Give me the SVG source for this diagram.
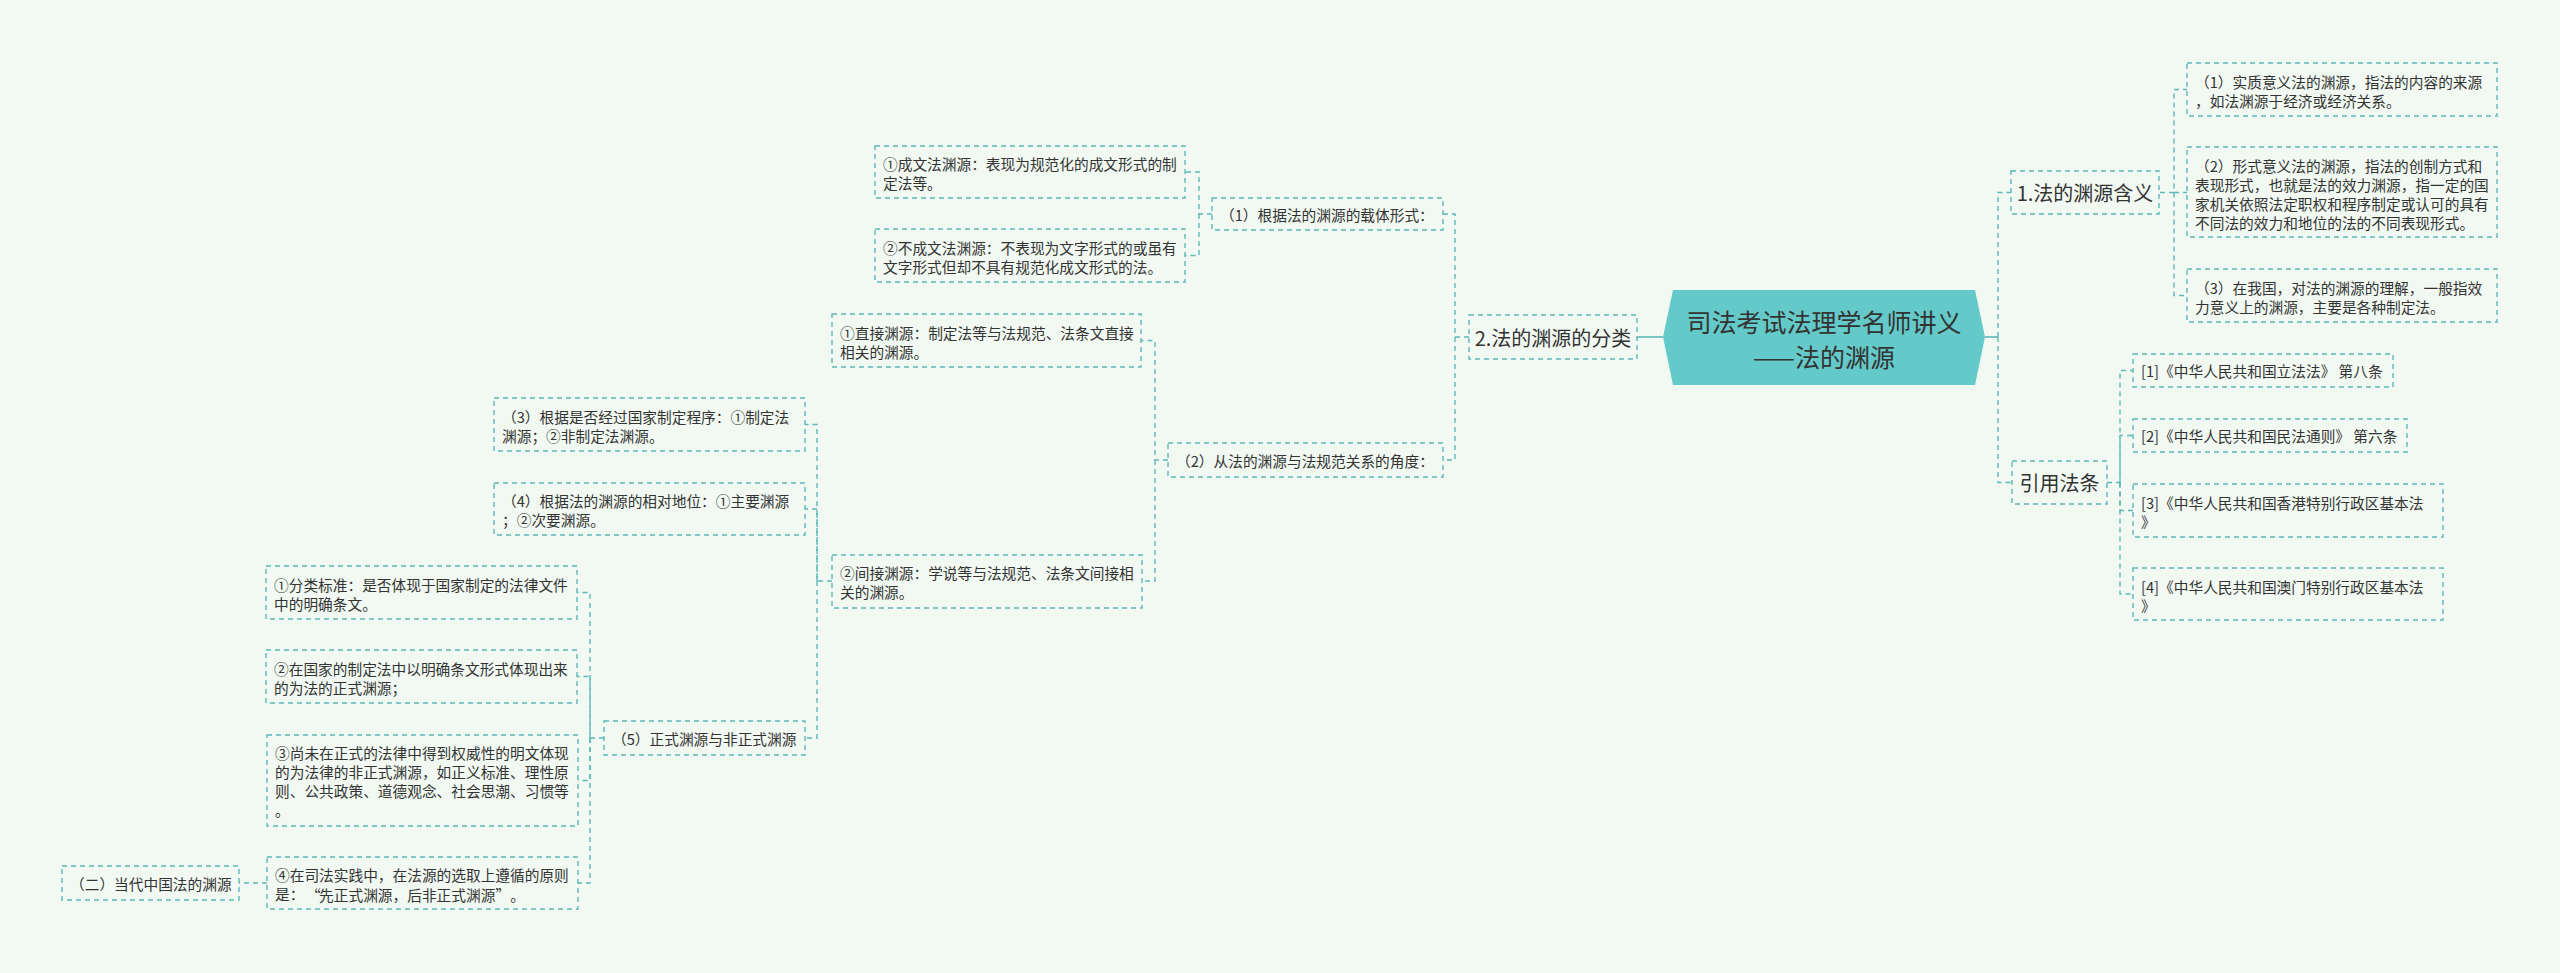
<svg xmlns="http://www.w3.org/2000/svg" width="2560" height="973" viewBox="0 0 2560 973">
<style>
.bg{fill:#f1f9f2}
.box{fill:none;stroke:#5db8b8;stroke-width:1.4;stroke-dasharray:5 4}
.t{font-family:"Noto Sans CJK SC","Noto Sans",sans-serif;font-size:14.7px;fill:#333333;dominant-baseline:central}
.l1{font-family:"Noto Sans CJK SC","Noto Sans",sans-serif;font-size:20px;fill:#333333;dominant-baseline:central;text-anchor:middle}
.root{font-family:"Noto Sans CJK SC","Noto Sans",sans-serif;font-size:25px;fill:#333333;dominant-baseline:central;text-anchor:middle}
.c{fill:none;stroke:#5db8b8;stroke-width:1.4;stroke-dasharray:5 4}
.s{fill:none;stroke:#5db8b8;stroke-width:1.6}
</style>
<rect class="bg" x="0" y="0" width="2560" height="973"/>
<g id="connectors">
<path class="s" d="M1985,337 H1998"/>
<path class="c" d="M1998,337 V192.5 H2011"/>
<path class="c" d="M1998,337 V482.5 H2012"/>
<path class="c" d="M2160,192.5 H2174 V89.5 H2187"/>
<path class="c" d="M2174,192.5 H2187"/>
<path class="c" d="M2174,192.5 V295.5 H2187"/>
<path class="c" d="M2107,482.5 H2120 V370.5 H2133"/>
<path class="c" d="M2120,482.5 V435.5 H2133"/>
<path class="c" d="M2120,482.5 V510.5 H2133"/>
<path class="c" d="M2120,482.5 V594 H2133"/>
<path class="s" d="M1663,337 H1637"/>
<path class="c" d="M1469,337 H1455 V214 H1443"/>
<path class="c" d="M1455,337 V460 H1443"/>
<path class="c" d="M1212,214 H1199 V172 H1185"/>
<path class="c" d="M1199,214 V255.5 H1185"/>
<path class="c" d="M1168,460 H1155 V340.5 H1141"/>
<path class="c" d="M1155,460 V581 H1142"/>
<path class="c" d="M832,581 H817 V424.5 H805"/>
<path class="c" d="M817,581 V509 H805"/>
<path class="c" d="M817,581 V738 H805"/>
<path class="c" d="M604,738 H590 V592.5 H577"/>
<path class="c" d="M590,738 V676.5 H577"/>
<path class="c" d="M590,738 V780.5 H578"/>
<path class="c" d="M590,738 V883 H578"/>
<path class="c" d="M267,883 H239"/>
</g>
<g id="root">
<polygon points="1663,337 1673,290 1975,290 1985,337 1975,385 1673,385" fill="#64c9c9"/>
<text class="root" x="1824" y="321">司法考试法理学名师讲义</text>
<text class="root" x="1824" y="356">——法的渊源</text>
</g>
<g id="n1">
<rect class="box" x="2011" y="171" width="148" height="43"/>
<text class="l1" x="2085" y="192.5">1.法的渊源含义</text>
</g>
<g id="n1a">
<rect class="box" x="2187" y="63" width="310" height="53"/>
<text class="t" x="2195" y="81">（1）实质意义法的渊源，指法的内容的来源</text>
<text class="t" x="2195" y="100">，如法渊源于经济或经济关系。</text>
</g>
<g id="n1b">
<rect class="box" x="2187" y="147" width="310" height="90"/>
<text class="t" x="2195" y="165">（2）形式意义法的渊源，指法的创制方式和</text>
<text class="t" x="2195" y="184">表现形式，也就是法的效力渊源，指一定的国</text>
<text class="t" x="2195" y="203">家机关依照法定职权和程序制定或认可的具有</text>
<text class="t" x="2195" y="222">不同法的效力和地位的法的不同表现形式。</text>
</g>
<g id="n1c">
<rect class="box" x="2187" y="269" width="310" height="53"/>
<text class="t" x="2195" y="287">（3）在我国，对法的渊源的理解，一般指效</text>
<text class="t" x="2195" y="306">力意义上的渊源，主要是各种制定法。</text>
</g>
<g id="n2">
<rect class="box" x="2012" y="461" width="95" height="43"/>
<text class="l1" x="2059.5" y="482.5">引用法条</text>
</g>
<g id="n2a">
<rect class="box" x="2133" y="354" width="260" height="33"/>
<text class="t" x="2141" y="370.5">[1]《中华人民共和国立法法》 第八条</text>
</g>
<g id="n2b">
<rect class="box" x="2133" y="419" width="274" height="33"/>
<text class="t" x="2141" y="435.5">[2]《中华人民共和国民法通则》 第六条</text>
</g>
<g id="n2c">
<rect class="box" x="2133" y="484" width="310" height="53"/>
<text class="t" x="2141" y="502">[3]《中华人民共和国香港特别行政区基本法</text>
<text class="t" x="2141" y="521">》</text>
</g>
<g id="n2d">
<rect class="box" x="2133" y="568" width="310" height="52"/>
<text class="t" x="2141" y="586">[4]《中华人民共和国澳门特别行政区基本法</text>
<text class="t" x="2141" y="605">》</text>
</g>
<g id="n3">
<rect class="box" x="1469" y="315" width="168" height="44"/>
<text class="l1" x="1553" y="337">2.法的渊源的分类</text>
</g>
<g id="n3a">
<rect class="box" x="1212" y="198" width="231" height="32"/>
<text class="t" x="1220" y="214">（1）根据法的渊源的载体形式：</text>
</g>
<g id="n3a1">
<rect class="box" x="875" y="146" width="310" height="52"/>
<text class="t" x="883" y="163.5">①成文法渊源：表现为规范化的成文形式的制</text>
<text class="t" x="883" y="182.5">定法等。</text>
</g>
<g id="n3a2">
<rect class="box" x="875" y="229" width="310" height="53"/>
<text class="t" x="883" y="247">②不成文法渊源：不表现为文字形式的或虽有</text>
<text class="t" x="883" y="266">文字形式但却不具有规范化成文形式的法。</text>
</g>
<g id="n3b">
<rect class="box" x="1168" y="443" width="275" height="34"/>
<text class="t" x="1176" y="460">（2）从法的渊源与法规范关系的角度：</text>
</g>
<g id="n3b1">
<rect class="box" x="832" y="314" width="309" height="53"/>
<text class="t" x="840" y="332">①直接渊源：制定法等与法规范、法条文直接</text>
<text class="t" x="840" y="351">相关的渊源。</text>
</g>
<g id="n3b2">
<rect class="box" x="832" y="555" width="310" height="53"/>
<text class="t" x="840" y="572.5">②间接渊源：学说等与法规范、法条文间接相</text>
<text class="t" x="840" y="591.5">关的渊源。</text>
</g>
<g id="n3b2a">
<rect class="box" x="494" y="398" width="311" height="53"/>
<text class="t" x="502" y="416">（3）根据是否经过国家制定程序：①制定法</text>
<text class="t" x="502" y="435">渊源；②非制定法渊源。</text>
</g>
<g id="n3b2b">
<rect class="box" x="494" y="483" width="311" height="52"/>
<text class="t" x="502" y="500.5">（4）根据法的渊源的相对地位：①主要渊源</text>
<text class="t" x="502" y="519.5">；②次要渊源。</text>
</g>
<g id="n3b2c">
<rect class="box" x="604" y="721" width="201" height="34"/>
<text class="t" x="612" y="738">（5）正式渊源与非正式渊源</text>
</g>
<g id="c1">
<rect class="box" x="266" y="566" width="311" height="53"/>
<text class="t" x="274" y="584">①分类标准：是否体现于国家制定的法律文件</text>
<text class="t" x="274" y="603">中的明确条文。</text>
</g>
<g id="c2">
<rect class="box" x="266" y="650" width="311" height="53"/>
<text class="t" x="274" y="668">②在国家的制定法中以明确条文形式体现出来</text>
<text class="t" x="274" y="687">的为法的正式渊源；</text>
</g>
<g id="c3">
<rect class="box" x="267" y="735" width="311" height="91"/>
<text class="t" x="275" y="752.5">③尚未在正式的法律中得到权威性的明文体现</text>
<text class="t" x="275" y="771.5">的为法律的非正式渊源，如正义标准、理性原</text>
<text class="t" x="275" y="790.5">则、公共政策、道德观念、社会思潮、习惯等</text>
<text class="t" x="275" y="809.5">。</text>
</g>
<g id="c4">
<rect class="box" x="267" y="857" width="311" height="52"/>
<text class="t" x="275" y="874.5">④在司法实践中，在法源的选取上遵循的原则</text>
<text class="t" x="275" y="893.5">是：<tspan x="306">“</tspan><tspan x="319.1">先正式渊源，后非正式渊源</tspan><tspan x="495.5">”</tspan><tspan x="510.2">。</tspan></text>
</g>
<g id="d1">
<rect class="box" x="62" y="866" width="177" height="34"/>
<text class="t" x="70" y="883">（二）当代中国法的渊源</text>
</g>
</svg>
